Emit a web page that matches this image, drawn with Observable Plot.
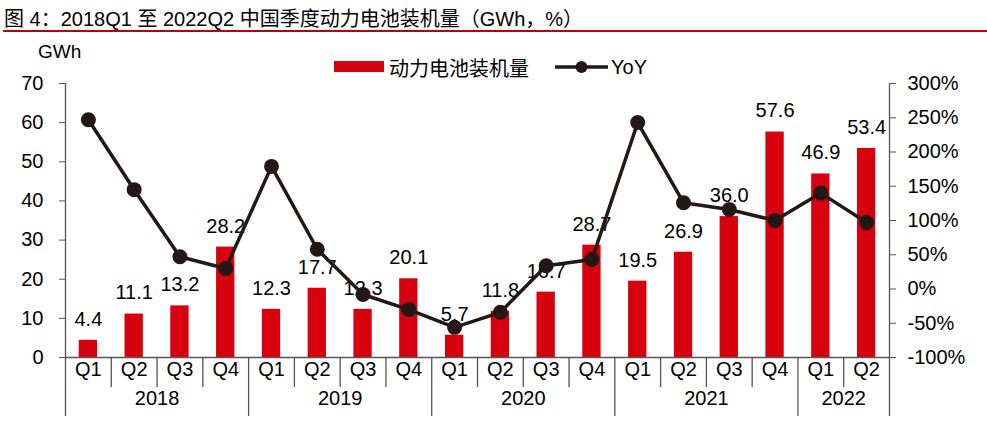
<!DOCTYPE html>
<html><head><meta charset="utf-8">
<script src="https://cdn.jsdelivr.net/npm/d3@7"></script>
<script src="https://cdn.jsdelivr.net/npm/@observablehq/plot@0.6"></script>
<style>
body{margin:0;background:#fff;font-family:"Liberation Sans",Arial,"Noto Sans CJK SC",sans-serif;}
#wrap{position:relative;width:987px;height:431px;overflow:hidden;}
#title{position:absolute;left:4px;top:3px;font-size:20px;color:#000;font-family:"Liberation Sans",Arial,"Noto Sans CJK SC",sans-serif;white-space:nowrap;}
#rule{position:absolute;left:3px;right:0;top:30px;height:2px;background:#C00000;}
#unit{position:absolute;left:38px;top:41px;font-size:19px;}
#legend{position:absolute;left:334px;top:54px;height:26px;font-size:20px;display:flex;align-items:center;font-family:"Liberation Sans",Arial,"Noto Sans CJK SC",sans-serif;}
#plot{position:absolute;left:0;top:35px;}
</style></head>
<body>
<div id="wrap">
  <div id="title">图 4：2018Q1 至 2022Q2 中国季度动力电池装机量（GWh，%）</div>
  <div id="rule"></div>
  <div id="unit">GWh</div>
  <div id="legend"></div>
  <div id="plot"></div>
</div>
<script>
const periods = ["2018Q1","2018Q2","2018Q3","2018Q4","2019Q1","2019Q2","2019Q3","2019Q4",
  "2020Q1","2020Q2","2020Q3","2020Q4","2021Q1","2021Q2","2021Q3","2021Q4","2022Q1","2022Q2"];
const installed = [4.4,11.1,13.2,28.2,12.3,17.7,12.3,20.1,5.7,11.8,16.7,28.7,19.5,26.9,36.0,57.6,46.9,53.4];
const yoy = [247,145,47,30,179,58,-8,-30,-56,-34,34,43,243,126,116,100,140,97];
const years = ["2018","2019","2020","2021","2022"];
const leftTicks = [0,10,20,30,40,50,60,70];
const rightTicks = [-100,-50,0,50,100,150,200,250,300];
const seriesNames = ["动力电池装机量","YoY"];

const barColor = "#D7000F", lineColor = "#231815", axisColor = "#555";
const leftMax = 70, rMin = -100, rMax = 300;
const toLeft = v => (v - rMin) / (rMax - rMin) * leftMax;
const fromLeft = v => v / leftMax * (rMax - rMin) + rMin;

const W = 987, H = 396, mT = 48, mB = 74, mL = 65, mR = 98;
const step = (W - mL - mR) / periods.length;
const unitPerPx = leftMax / (H - mT - mB);

const data = periods.map((p, i) => ({p, year: p.slice(0,4), q: p.slice(4), v: installed[i], yoy: yoy[i]}));
const firstOfYear = data.filter(d => d.q === "Q1" && d.p !== periods[0]).map(d => d.p);
const quarterSeps = data.filter(d => d.q !== "Q1").map(d => d.p);
const yearCenters = years.map(y => {
  const ps = periods.filter(p => p.startsWith(y));
  return {year: y, anchor: ps[Math.floor((ps.length - 1) / 2)]};
});
const yBottomQ = -30 * unitPerPx, yBottomY = -59 * unitPerPx;

const chart = Plot.plot({
  width: W, height: H, marginTop: mT, marginBottom: mB, marginLeft: mL, marginRight: mR,
  style: {fontFamily: '"Liberation Sans", Arial, sans-serif', fontSize: "20px", color: "#000", background: "transparent", overflow: "visible"},
  x: {type: "band", domain: periods, paddingInner: 0.6, paddingOuter: 0.3, round: false, axis: null},
  y: {domain: [0, leftMax], axis: null},
  marks: [
    Plot.barY(data, {x: "p", y: "v", fill: barColor}),
    Plot.text(data, {x: "p", y: "v", text: d => d.v.toFixed(1), dy: -21, fontSize: 20, fill: "#000"}),
    Plot.line(data, {x: "p", y: d => toLeft(d.yoy), stroke: lineColor, strokeWidth: 3.5}),
    Plot.dot(data, {x: "p", y: d => toLeft(d.yoy), r: 7.5, fill: lineColor}),
    Plot.ruleY([0], {stroke: axisColor, strokeWidth: 1.3}),
    Plot.ruleX([periods[0]], {y1: yBottomY, y2: leftMax, dx: -step / 2, stroke: axisColor, strokeWidth: 1.3}),
    Plot.ruleX([periods[periods.length - 1]], {y1: yBottomY, y2: leftMax, dx: step / 2, stroke: axisColor, strokeWidth: 1.3}),
    Plot.ruleX(quarterSeps, {y1: 0, y2: yBottomQ, dx: -step / 2, stroke: axisColor, strokeWidth: 1.3}),
    Plot.ruleX(firstOfYear, {y1: 0, y2: yBottomY, dx: -step / 2, stroke: axisColor, strokeWidth: 1.3}),
    Plot.text(data, {x: "p", text: "q", frameAnchor: "bottom", dy: 18, fontSize: 20}),
    Plot.text(yearCenters, {x: "anchor", text: "year", frameAnchor: "bottom", dy: 47, dx: step / 2, fontSize: 20}),
    Plot.axisY(leftTicks, {anchor: "left", tickSize: 6, tickPadding: 16, label: null, fontSize: 20, stroke: axisColor}),
    Plot.axisY(rightTicks.map(toLeft), {anchor: "right", tickSize: 6, tickPadding: 12, label: null, fontSize: 20, stroke: axisColor,
      tickFormat: d => Math.round(fromLeft(d)) + "%"})
  ]
});
document.getElementById("plot").appendChild(chart);

const lg = document.getElementById("legend");
lg.innerHTML =
  `<svg width="50" height="12" style="display:block"><rect x="0" y="0" width="50" height="11" fill="${barColor}"/></svg>` +
  `<span style="margin-left:5px;font-family:'Noto Sans CJK SC',sans-serif;font-size:20px">${seriesNames[0]}</span>` +
  `<svg width="54" height="16" style="display:block;margin-left:26px"><line x1="0" y1="8" x2="53" y2="8" stroke="${lineColor}" stroke-width="3.5"/><circle cx="26.5" cy="8" r="6" fill="${lineColor}"/></svg>` +
  `<span style="margin-left:2px">${seriesNames[1]}</span>`;
</script>
</body></html>
